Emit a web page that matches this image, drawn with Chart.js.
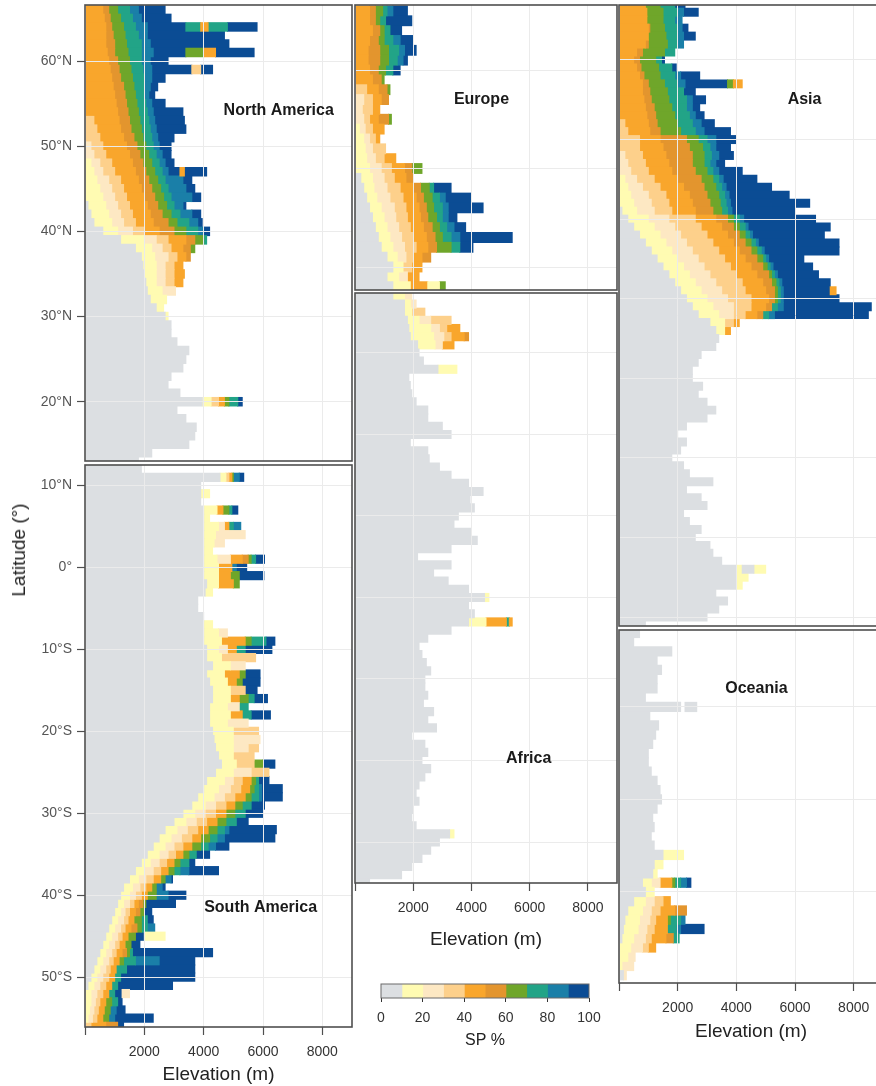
<!DOCTYPE html>
<html><head><meta charset="utf-8">
<script src="https://cdn.jsdelivr.net/npm/chart.js@4.4.1/dist/chart.umd.min.js"></script>
<style>
html,body{margin:0;padding:0;background:#fff;}
body{width:876px;height:1086px;overflow:hidden;position:relative;font-family:"Liberation Sans",Arial,sans-serif;}
canvas{position:absolute;}
#latTitle{position:absolute;left:19px;top:550px;transform:translate(-50%,-50%) rotate(-90deg);font-size:19px;color:#222;white-space:nowrap;}
</style></head><body>
<canvas id="cNA" width="354" height="463" style="left:0;top:0"></canvas>
<canvas id="cSA" width="354" height="623" style="left:0;top:463px"></canvas>
<canvas id="cEU" width="266" height="292" style="left:353px;top:0"></canvas>
<canvas id="cAF" width="266" height="669" style="left:353px;top:291px"></canvas>
<canvas id="cAS" width="268" height="628" style="left:617px;top:0"></canvas>
<canvas id="cOC" width="268" height="428" style="left:617px;top:628px"></canvas>
<canvas id="cLeg" width="250" height="80" style="left:360px;top:975px"></canvas>
<div id="latTitle">Latitude (°)</div>
<script>
// ---------- SP classes (legend) ----------
const spBreaks = [0,10,20,30,40,50,60,70,80,90,100];
const spColors = ['#dcdfe2','#fffbb2','#fde8c3','#fdd08b','#f9a62c','#e3952e','#6fa62a','#22a487','#1a7fa8','#0b4c94'];
const spTicks = [0,20,40,60,80,100];
// ---------- axis ticks ----------
const elevTicks = [0,2000,4000,6000,8000];
const latTicks = [70,60,50,40,30,20,10,0,-10,-20,-30,-40,-50];

// ---------- rows: each row = [class, endElevation, class, endElevation, ...] from 0 m ----------
const naLat = [66,65,64,63,62,61,60,59,58,57,56,55,54,53,52,51,50,49,48,47,46,45,44,43,42,41,40,39,38,37,36,35,34,33,32,31,30,29,28,27,26,25,24,23,22,21,20,19,18,17,16,15,14,13];
const naRuns = [
[4,600,5,800,6,1100,7,1500,8,1800,9,2700],
[4,650,5,850,6,1200,7,1600,8,1900,9,2900],
[4,700,5,900,6,1300,7,1700,8,2100,9,3400,7,3900,4,4150,7,4800,9,5800],
[4,700,5,950,6,1350,7,1800,8,2100,9,4700],
[4,700,5,1000,6,1400,7,1900,8,2200,9,4850],
[4,750,5,1000,6,1450,7,1900,8,2300,9,3400,6,4000,4,4400,9,5700],
[4,800,5,1100,6,1500,7,1900,8,2200,9,2800],
[4,850,5,1150,6,1550,7,1950,8,2250,9,3600,3,3900,9,4300],
[4,900,5,1200,6,1600,7,2000,8,2250,9,2700],
[4,950,5,1300,6,1650,7,2000,8,2200,9,2450],
[4,1000,5,1350,6,1700,7,2000,8,2150,9,2350],
[4,1050,5,1400,6,1750,7,2050,8,2250,9,2700],
[4,1100,5,1450,6,1800,7,2100,8,2300,9,3300],
[3,300,4,1150,5,1500,6,1850,7,2150,8,2350,9,3350],
[3,400,4,1200,5,1550,6,1900,7,2200,8,2400,9,3400],
[3,500,4,1300,5,1650,6,1950,7,2250,8,2450,9,3000],
[2,200,3,600,4,1400,5,1750,6,2050,7,2300,8,2500,9,2900],
[2,300,3,700,4,1500,5,1850,6,2150,7,2400,8,2600,9,2900],
[1,200,2,500,3,900,4,1600,5,1950,6,2250,7,2500,8,2700,9,3000],
[1,300,2,600,3,1000,4,1700,5,2050,6,2350,7,2600,8,2800,9,3200,4,3350,9,4100],
[1,400,2,800,3,1200,4,1800,5,2150,6,2450,7,2700,8,3300,9,3600],
[1,500,2,900,3,1300,4,1900,5,2250,6,2550,7,2800,8,3400,9,3700],
[1,600,2,1000,3,1400,4,2000,5,2350,6,2650,7,2900,8,3600,9,3900],
[0,100,1,700,2,1100,3,1500,4,2100,5,2450,6,2750,7,3000,8,3300,9,3400],
[0,200,1,800,2,1200,3,1600,4,2200,5,2600,6,2900,7,3200,8,3600,9,3900],
[0,300,1,900,2,1300,3,1700,4,2300,5,2800,6,3100,7,3500,8,3800,9,3950],
[0,600,1,1100,2,1600,3,2000,4,2500,5,3000,6,3400,7,3800,8,4000,9,4200],
[0,1200,1,2000,2,2400,3,2800,4,3400,5,3700,6,4000,7,4100],
[0,1700,1,2250,2,2600,3,2900,4,3300,5,3550,6,3700],
[0,1900,1,2350,2,2800,3,3100,4,3400,5,3550],
[0,1950,1,2400,2,2700,3,3000,4,3300],
[0,2000,1,2400,2,2700,3,3000,4,3350],
[0,2050,1,2400,2,2700,3,3000,4,3300],
[0,2100,1,2600,2,3050],
[0,2200,1,2750],
[0,2400,1,2650],
[0,2700,1,2800],
[0,2900],[0,2900],[0,3100],[0,3500],[0,3400],[0,3300],[0,2900],[0,2800],[0,3200],
[0,3950,1,4250,3,4500,4,4700,6,4850,7,5150,9,5300],
[0,3100],[0,3400],[0,3750],[0,3700],[0,3500],[0,2250],[0,1800]
];

const saLat = [12,11,10,9,8,7,6,5,4,3,2,1,0,-1,-2,-3,-4,-5,-6,-7,-8,-9,-10,-11,-12,-13,-14,-15,-16,-17,-18,-19,-20,-21,-22,-23,-24,-25,-26,-27,-28,-29,-30,-31,-32,-33,-34,-35,-36,-37,-38,-39,-40,-41,-42,-43,-44,-45,-46,-47,-48,-49,-50,-51,-52,-53,-54,-55,-56];
const saRuns = [
[0,1900],
[0,4550,1,4750,3,4850,4,4950,6,5000,8,5200,9,5350],
[0,3900],
[0,3900,1,4200],
[0,3900],
[0,4000,1,4450,4,4650,6,4850,7,4950,9,5150],
[0,4000,1,4200],
[0,4000,1,4500,2,4700,4,4850,7,5000,8,5250],
[0,4000,1,4400,2,5400],
[0,4000,1,4350,2,4700],
[0,4000,1,4300],
[0,4000,1,4450,2,4900,4,5300,5,5500,6,5600,7,5750,9,6050],
[0,4000,1,4500,4,4950,8,5100,9,5450],
[0,4000,1,4500,4,4900,6,5200,9,6030],
[0,4100,1,4500,4,5000,6,5200],
[0,4050,1,4300],
[0,3800],[0,3800],[0,4000],
[0,4000,1,4300],
[0,4000,1,4500,2,4800],
[0,4000,1,4600,4,5400,6,5600,7,6100,9,6400],
[0,4100,1,4500,2,4800,4,5100,7,5400,9,6300],
[0,4100,1,4600,3,5750],
[0,4300,1,4900,2,5400],
[0,4100,1,4700,4,5200,6,5400,9,5900],
[0,4200,1,4800,4,5100,6,5300,9,5900],
[0,4300,1,4900,3,5400,9,5800],
[0,4300,1,4900,4,5200,6,5500,7,5700,9,6150],
[0,4200,1,4800,2,5200,7,5500],
[0,4200,1,4900,4,5300,7,5600,9,6250],
[0,4200,1,4800,2,5500],
[0,4300,1,5000,3,5850],
[0,4350,1,5000,2,5900],
[0,4400,1,5000,2,5500,3,5850],
[0,4500,1,5000,3,5700],
[0,4600,1,5100,3,5700,6,6000,9,6400],
[0,4400,1,5000,2,5600,3,6200],
[0,4100,1,4700,2,5000,3,5300,4,5600,6,5750,7,5850,9,6200],
[0,4000,1,4500,2,4900,3,5250,4,5550,6,5700,7,5850,8,5950,9,6650],
[0,3800,1,4350,2,4700,3,5050,4,5400,6,5600,7,5850,8,5950,9,6650],
[0,3600,1,4050,2,4400,3,4750,4,5050,6,5300,7,5600,9,6050],
[0,3300,1,3700,2,4050,3,4400,4,4750,6,5050,7,5400,9,6000],
[0,3000,1,3400,2,3750,3,4100,4,4450,6,4750,7,5100,9,5500],
[0,2700,1,3100,2,3450,3,3800,4,4150,6,4450,7,4700,8,4850,9,6450],
[0,2500,1,2900,2,3250,3,3600,4,3900,6,4200,7,4450,8,4700,9,6400],
[0,2300,1,2700,2,3000,3,3300,4,3600,6,3900,7,4150,8,4400,9,4850],
[0,2100,1,2500,2,2800,3,3050,4,3300,6,3500,7,3750,9,4200],
[0,1900,1,2200,2,2500,3,2750,4,3000,6,3200,7,3500,9,3700],
[0,1700,1,2000,2,2300,3,2550,4,2800,6,3000,7,3200,8,3500,9,4500],
[0,1500,1,1800,2,2050,3,2300,4,2550,6,2700,8,2900,9,2950],
[0,1300,1,1600,2,1850,3,2050,4,2250,6,2400,8,2600,9,2700],
[0,1200,1,1500,2,1700,3,1900,4,2100,6,2400,8,2800,9,3400],
[0,1100,1,1300,2,1500,3,1650,4,1800,5,1950,6,2050,9,3050],
[0,1000,1,1200,2,1350,3,1500,4,1700,5,1850,6,2000,9,2250],
[0,900,1,1100,2,1300,3,1450,4,1650,6,1900,7,2100,9,2300],
[0,800,1,1000,2,1200,3,1350,4,1550,5,1750,6,1900,7,2100,8,2350],
[0,700,1,900,2,1100,3,1250,4,1450,6,1700,9,2000,1,2700],
[0,600,1,800,2,1000,3,1150,4,1350,6,1550,9,1850],
[0,500,1,700,2,900,3,1050,4,1250,5,1400,6,1500,7,1600,9,4300],
[0,400,1,600,2,800,3,950,4,1150,6,1300,7,1700,8,2500,9,3700],
[0,300,1,500,2,700,3,850,4,1050,7,1400,9,3700],
[0,200,1,400,2,600,3,800,4,1000,7,1200,9,3700],
[0,100,1,300,2,500,3,700,4,900,7,1100,9,2950],
[1,200,2,400,3,600,4,800,7,1000,9,1250,2,1500],
[1,200,2,350,3,500,4,700,6,900,7,1100,9,1250],
[1,150,2,300,3,450,4,650,6,850,8,1050,9,1350],
[1,100,2,250,3,400,4,600,6,800,8,1000,9,2300],
[3,200,4,700,5,1100,9,1300]
];

const euLat = [66,65,64,63,62,61,60,59,58,57,56,55,54,53,52,51,50,49,48,47,46,45,44,43,42,41,40,39,38];
const euRuns = [
[4,500,5,700,6,950,7,1100,8,1300,9,1800],
[4,500,5,700,6,850,7,1050,9,1950],
[4,600,5,850,6,1000,7,1200,9,1600],
[4,500,5,800,6,1000,7,1300,8,1550,9,2000],
[4,450,5,850,6,1150,7,1500,8,1700,9,2100],
[4,450,5,850,6,1150,7,1450,8,1650,9,1800],
[4,500,5,800,6,1050,7,1300,9,1550],
[4,600,5,900,6,1000],
[3,400,4,800,5,1100,6,1200],
[2,300,3,600,4,900,5,1150],
[2,250,3,600,4,850],
[2,300,3,500,4,800,5,1150,6,1250],
[1,150,2,350,3,600,4,1000],
[1,300,2,500,3,700,4,850],
[1,350,2,600,3,1050],
[1,400,2,700,3,1000,4,1400],
[1,500,2,900,3,1250,4,1700,5,1950,6,2300],
[0,200,1,600,2,1000,3,1350,4,1750,5,2000],
[0,300,1,650,2,1100,3,1550,4,2000,5,2250,6,2550,7,2700,9,3300],
[0,400,1,750,2,1200,3,1650,4,2100,5,2350,6,2650,7,2900,8,3100,9,4000],
[0,500,1,900,2,1350,3,1750,4,2200,5,2450,6,2700,7,3000,8,3200,9,4400],
[0,600,1,1000,2,1400,3,1800,4,2250,5,2500,6,2800,7,3000,8,3200,9,3500],
[0,700,1,1100,2,1500,3,1900,4,2350,5,2650,6,2900,7,3150,8,3400,9,3800],
[0,800,1,1200,2,1600,3,2000,4,2450,5,2750,6,3000,7,3300,8,3600,9,5400],
[0,900,1,1300,2,1700,3,2100,4,2500,5,2800,6,3300,7,3600,9,4050],
[0,1100,1,1450,2,1750,3,2000,4,2300,5,2600],
[0,1300,1,1650,3,1950,4,2300],
[0,1100,1,1500,2,1800,4,2200],
[0,1300,1,1900,4,2500,1,2900,6,3100]
];

const afLat = [37,36,35,34,33,32,31,30,29,28,27,26,25,24,23,22,21,20,19,18,17,16,15,14,13,12,11,10,9,8,7,6,5,4,3,2,1,0,-1,-2,-3,-4,-5,-6,-7,-8,-9,-10,-11,-12,-13,-14,-15,-16,-17,-18,-19,-20,-21,-22,-23,-24,-25,-26,-27,-28,-29,-30,-31,-32,-33,-34,-35];
const afRuns = [
[0,1300,1,1700,2,1950],
[0,1700,1,1900,2,2100],
[0,1700,1,1950,3,2400],
[0,1800,1,2200,2,2600,3,3300],
[0,1850,1,2600,2,2900,3,3150,4,3600],
[0,1900,1,2700,2,3050,3,3300,4,3750,5,3900],
[0,2150,1,2750,2,3000,4,3400],
[0,2200],[0,2350],
[0,2850,1,3500],
[0,1850],[0,1900],[0,1950],[0,2100],[0,2500],[0,2500],[0,3000],[0,3300],[0,1900],[0,2500],[0,2550],[0,2900],[0,3300],[0,3900],[0,4400],[0,3950],[0,4100],[0,3550],[0,3400],[0,4000],[0,4200],[0,3300],[0,2150],[0,3300],[0,2700],[0,3200],[0,3900],
[0,4450,1,4600],
[0,3900],[0,4100],
[0,3900,1,4500,4,5200,7,5300,4,5400],
[0,3300],[0,2500],[0,2200],[0,2300],[0,2450],[0,2600],[0,2400],[0,2400],[0,2500],[0,2350],[0,2700],[0,2500],[0,2800],[0,1950],[0,2400],[0,2500],[0,2300],[0,2600],[0,2400],[0,2200],[0,2100],[0,2200],[0,2000],[0,1950],[0,2100],
[0,3250,1,3400],
[0,2900],[0,2600],[0,2300],[0,1950],[0,1600],[0,500]
];

const asLat = [67,66,65,64,63,62,61,60,59,58,57,56,55,54,53,52,51,50,49,48,47,46,45,44,43,42,41,40,39,38,37,36,35,34,33,32,31,30,29,28,27,26,25,24,23,22,21,20,19,18,17,16,15,14,13,12,11,10,9,8,7,6,5,4,3,2,1,0,-1,-2,-3,-4,-5,-6,-7,-8,-9,-10,-11];
const asRuns = [
[4,900,6,1400,7,1900,9,2250],
[4,950,6,1500,7,2000,8,2200,9,2700],
[4,950,6,1500,7,1900,8,2150],
[4,1000,5,1050,6,1550,7,2000,8,2150,9,2350],
[4,1000,6,1600,7,2000,8,2200,9,2600],
[4,900,5,1000,6,1650,7,2000,8,2200],
[4,600,5,800,6,1550,7,1900],
[4,500,5,700,6,1250,7,1450,9,1550],
[4,600,5,750,6,1350,7,1800,9,1950],
[4,700,5,850,6,1400,7,1900,8,2100,9,2750],
[4,800,5,1000,6,1550,7,2000,8,2250,9,3700,6,3900,4,4200],
[4,800,5,1050,6,1650,7,2200,9,2600],
[4,850,5,1100,6,1700,7,2300,8,2500,9,2950],
[4,900,5,1200,6,1800,7,2300,8,2500,9,2750],
[4,950,5,1250,6,1900,7,2400,8,2600,9,2900],
[3,200,4,1000,5,1300,6,2000,7,2500,8,2800,9,3250],
[3,300,4,1050,5,1400,6,2100,7,2600,8,2900,9,3800],
[3,700,4,1400,5,2300,6,2700,7,3000,8,3300,9,4000],
[3,700,4,1500,5,2400,6,2850,7,3100,8,3300,9,3800],
[2,200,3,800,4,1600,5,2500,6,2900,7,3150,8,3400,9,3900],
[2,300,3,900,4,1700,5,2500,6,2900,7,3100,8,3300,9,3600],
[2,400,3,1000,4,1800,5,2600,6,3000,7,3200,8,3400,9,4200],
[1,200,2,600,3,1200,4,2000,5,2800,6,3200,7,3400,8,3550,9,4700],
[1,300,2,800,3,1400,4,2200,5,2900,6,3300,7,3500,8,3650,9,5200],
[1,400,2,1000,3,1600,4,2400,5,3000,6,3400,7,3600,8,3750,9,5800],
[1,500,2,1100,3,1700,4,2500,5,3100,6,3450,7,3650,8,3800,9,6500],
[0,100,1,600,2,1200,3,1800,4,2600,5,3200,6,3500,7,3700,8,3850,9,6000],
[0,300,1,1000,2,1700,3,2600,4,3300,5,3700,6,3900,7,4100,8,4250,9,6700],
[0,500,1,1200,2,1900,3,2800,4,3500,5,3900,6,4100,7,4300,8,4400,9,7200],
[0,700,1,1400,2,2100,3,3000,4,3700,5,4100,6,4300,7,4450,8,4550,9,7000],
[0,900,1,1600,2,2300,3,3200,4,3900,5,4300,6,4500,7,4650,8,4750,9,7500],
[0,1100,1,1800,2,2500,3,3400,4,4100,5,4500,6,4700,7,4850,8,4950,9,7500],
[0,1300,1,2000,2,2700,3,3600,4,4300,5,4700,6,4900,7,5000,8,5100,9,6300],
[0,1500,1,2200,2,2900,3,3800,4,4500,5,4900,6,5050,7,5150,8,5250,9,6600],
[0,1700,1,2400,2,3100,3,4000,4,4700,5,5100,6,5200,7,5300,8,5400,9,6800],
[0,1900,1,2600,2,3300,3,4200,4,4900,5,5200,6,5350,7,5450,8,5550,9,7200],
[0,2100,1,2800,2,3500,3,4300,4,5000,5,5300,6,5400,7,5500,8,5600,9,7200,4,7400],
[0,2300,1,3000,2,3700,3,4500,4,5100,5,5300,6,5400,7,5500,8,5600,9,7500],
[0,2500,1,3200,2,3900,3,4500,4,5000,5,5200,7,5400,8,5600,9,8600],
[0,2700,1,3400,2,3900,3,4300,4,4700,5,4900,7,5100,8,5300,9,8500],
[0,3100,1,3600,3,3900,4,4100],
[0,3300,1,3600,4,3800],
[0,3400],[0,3300],[0,2800],[0,2700],[0,2500],[0,2500],[0,2850],[0,2700],[0,3000],[0,3300],[0,3000],[0,2300],[0,2000],[0,2300],[0,2100],[0,1800],[0,2200],[0,2400],[0,3200],[0,2300],[0,2800],[0,3000],[0,2200],[0,2400],[0,2800],[0,2600],[0,3100],[0,3200],[0,3500],
[0,4000,1,4200,0,4600,1,5000],
[0,4000,1,4400],
[0,4000,1,4200],
[0,3300],[0,3700],[0,3400],[0,3000],[0,900]
];

const ocLat = [-12,-13,-14,-15,-16,-17,-18,-19,-20,-21,-22,-23,-24,-25,-26,-27,-28,-29,-30,-31,-32,-33,-34,-35,-36,-37,-38,-39,-40,-41,-42,-43,-44,-45,-46,-47,-48,-49];
const ocRuns = [
[0,700],[0,500],[0,1800],[0,1300],[0,1450],[0,1300],[0,1300],[0,900],
[0,2100,-1,2250,0,2650],
[0,1050],[0,1350],[0,1250],[0,1150],[0,1000],[0,1000],[0,1100],[0,1300],[0,1400],[0,1450],[0,1300],[0,1150],[0,1200],[0,1100],[0,1200],
[0,1500,1,2200],
[0,1200,1,1500],
[0,1150,1,1300],
[0,800,1,1100,2,1400,4,1800,6,1900,7,2100,8,2300,9,2450],
[0,900,1,1200],
[0,500,1,900,2,1200,3,1500,4,1750],
[0,300,1,800,2,1100,3,1400,4,1900,5,2300],
[0,200,1,700,2,1050,3,1250,4,1650,6,1750,7,2100,8,2250],
[0,150,1,650,2,950,3,1200,4,1650,7,1950,8,2100,9,2900],
[0,100,1,500,2,900,3,1100,4,1600,5,1850,7,2050],
[1,400,2,800,3,1000,4,1250],
[1,300,2,550],
[1,100,2,500],
[0,150,2,250]
];

// ---------- rendering ----------
const FONT = '"Liberation Sans", Arial, Helvetica, sans-serif';
Chart.defaults.font.family = FONT;

function buildDatasets(lats, runs) {
  const byClass = spColors.map(() => []);
  runs.forEach((row, i) => {
    let start = 0;
    for (let k = 0; k < row.length; k += 2) {
      const cls = row[k], end = row[k + 1];
      if (cls >= 0) byClass[cls].push({ x: [start, end], y: lats[i] });
      start = end;
    }
  });
  return byClass.map((data, c) => ({
    data, backgroundColor: spColors[c], borderWidth: 0, grouped: false,
    barPercentage: 1, categoryPercentage: 1, inflateAmount: 0.5, clip: 0
  }));
}

const framePlugin = {
  id: 'frame',
  afterDraw(chart, args, opts) {
    const a = chart.chartArea, ctx = chart.ctx;
    ctx.save();
    ctx.strokeStyle = opts.color || '#4f4f4f';
    ctx.lineWidth = opts.width || 1.6;
    ctx.strokeRect(a.left, a.top, a.right - a.left, a.bottom - a.top);
    ctx.restore();
  }
};
const labelPlugin = {
  id: 'panelLabel',
  afterDraw(chart, args, opts) {
    if (!opts || !opts.text) return;
    const ctx = chart.ctx;
    const x = chart.scales.x.getPixelForValue(opts.x);
    const y = chart.scales.y.getPixelForValue(opts.y);
    ctx.save();
    ctx.font = 'bold 16px ' + FONT;
    ctx.fillStyle = '#1a1a1a';
    ctx.textAlign = 'center';
    ctx.textBaseline = 'middle';
    ctx.fillText(opts.text, x, y);
    ctx.restore();
  }
};

const fmtLat = v => { v = Math.round(v); return v === 0 ? '0°' : (v > 0 ? v + '°N' : (-v) + '°S'); };

function makePanel(id, lats, runs, cfg) {
  return new Chart(document.getElementById(id), {
    type: 'bar',
    data: { datasets: buildDatasets(lats, runs) },
    options: {
      indexAxis: 'y', responsive: false, animation: false, devicePixelRatio: 1,
      layout: { padding: cfg.pad },
      plugins: {
        legend: { display: false }, tooltip: { enabled: false },
        frame: { color: '#4f4f4f', width: 1.6 },
        panelLabel: cfg.label
      },
      scales: {
        x: {
          type: 'linear', position: 'bottom', min: 0, max: 9000, offset: false,
          afterBuildTicks: s => { s.ticks = elevTicks.map(v => ({ value: v })); },
          ticks: { display: !!cfg.xTitle, padding: 8.6, color: '#333',
                   font: { family: FONT, size: 14 }, maxRotation: 0, autoSkip: false,
                   callback: v => v === 0 ? '' : String(v) },
          grid: { color: '#ebebeb', lineWidth: 1, z: 1, offset: false, drawTicks: !!cfg.xTitle, tickLength: 8, tickColor: '#4f4f4f', tickWidth: 1.2 },
          border: { display: false },
          title: { display: !!cfg.xTitle, text: 'Elevation (m)', color: '#222', font: { family: FONT, size: 19 },
                   padding: { top: 0, bottom: cfg.xTitlePad || 0 } },
          afterFit: s => { s.height = cfg.xH || 0; s.paddingLeft = 0; s.paddingRight = 0; }
        },
        y: {
          type: 'linear', position: 'left', min: cfg.latMin, max: cfg.latMax, offset: false,
          afterBuildTicks: s => { s.ticks = latTicks.filter(v => v >= cfg.latMin && v <= cfg.latMax).map(v => ({ value: v })); },
          ticks: { display: !!cfg.yTicks, padding: 5, color: '#555',
                   font: { family: FONT, size: 14 }, callback: fmtLat, autoSkip: false },
          grid: { color: '#ebebeb', lineWidth: 1, z: 1, offset: false, drawTicks: !!cfg.yTicks, tickLength: 8, tickColor: '#4f4f4f', tickWidth: 1.2 },
          border: { display: false },
          afterFit: s => { s.width = cfg.yW || 0; s.paddingTop = 0; s.paddingBottom = 0; }
        }
      }
    },
    plugins: [framePlugin, labelPlugin]
  });
}

makePanel('cNA', naLat, naRuns, { pad: { left: 0, top: 5, right: 2, bottom: 2 }, yW: 85, yTicks: true,
  latMin: 13.04, latMax: 66.575, label: { text: 'North America', x: 6530, y: 54.13 } });
makePanel('cSA', saLat, saRuns, { pad: { left: 0, top: 2, right: 2, bottom: 0 }, yW: 85, yTicks: true,
  xH: 59, xTitle: true, xTitlePad: 0, latMin: -56.08, latMax: 12.5, label: { text: 'South America', x: 5920, y: -41.5 } });
makePanel('cEU', euLat, euRuns, { pad: { left: 2, top: 5, right: 2, bottom: 2 },
  latMin: 37.665, latMax: 66.6, label: { text: 'Europe', x: 4345, y: 56.95 } });
makePanel('cAF', afLat, afRuns, { pad: { left: 2, top: 2, right: 2, bottom: 0 }, xH: 77, xTitle: true, xTitlePad: 8.6,
  latMin: -35.03, latMax: 37.36, label: { text: 'Africa', x: 5966, y: -19.8 } });
makePanel('cAS', asLat, asRuns, { pad: { left: 2, top: 5, right: 2, bottom: 2 },
  latMin: -11.13, latMax: 66.91, label: { text: 'Asia', x: 6325, y: 54.97 } });
makePanel('cOC', ocLat, ocRuns, { pad: { left: 2, top: 2, right: 2, bottom: 0 }, xH: 73, xTitle: true, xTitlePad: 12.6,
  latMin: -49.84, latMax: -11.68, label: { text: 'Oceania', x: 4684, y: -18.05 } });

// ---------- colour bar legend ----------
new Chart(document.getElementById('cLeg'), {
  type: 'bar',
  data: {
    labels: [''],
    datasets: spColors.map((c, i) => ({
      data: [[spBreaks[i], spBreaks[i + 1]]], backgroundColor: c, borderWidth: 0,
      grouped: false, barPercentage: 1, categoryPercentage: 1, inflateAmount: 0.5
    }))
  },
  options: {
    indexAxis: 'y', responsive: false, animation: false, devicePixelRatio: 1,
    layout: { padding: { left: 21, right: 21, top: 9, bottom: 0 } },
    plugins: { legend: { display: false }, tooltip: { enabled: false }, frame: { color: '#6a6a6a', width: 1 } },
    scales: {
      x: {
        type: 'linear', min: spTicks[0], max: spTicks[spTicks.length - 1],
        afterBuildTicks: s => { s.ticks = spTicks.map(v => ({ value: v })); },
        ticks: { padding: 7.6, color: '#333', font: { family: FONT, size: 14 }, autoSkip: false, maxRotation: 0 },
        grid: { drawOnChartArea: false, drawTicks: true, tickLength: 4, tickColor: '#333', tickWidth: 1 },
        border: { display: false },
        title: { display: true, text: 'SP %', color: '#222', font: { family: FONT, size: 16 }, padding: { top: 0, bottom: 4.4 } },
        afterFit: s => { s.height = 57; s.paddingLeft = 0; s.paddingRight = 0; }
      },
      y: { display: false }
    }
  },
  plugins: [framePlugin]
});
</script>
</body></html>
